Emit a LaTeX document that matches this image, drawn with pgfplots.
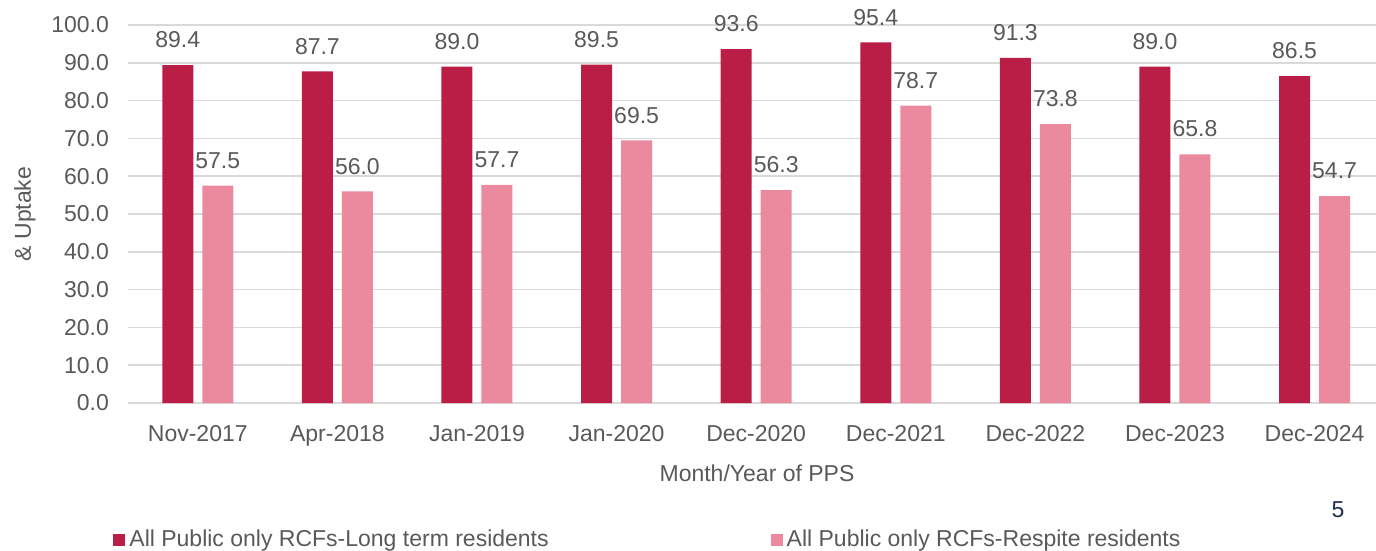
\documentclass[border=0pt]{standalone}
\usepackage{fontspec}
\setmainfont{Liberation Sans}
\usepackage{pgfplots}
\pgfplotsset{compat=1.18}
\definecolor{darkbar}{HTML}{BA1E46}
\definecolor{lightbar}{HTML}{EB899F}
\definecolor{txt}{HTML}{595959}
\definecolor{gridc}{HTML}{D9D9D9}
\definecolor{navy}{HTML}{1F2D4E}
\newcommand{\lbl}{\fontsize{11.5}{13.8}\selectfont}

\begin{document}
\begin{tikzpicture}
\useasboundingbox (0,0) rectangle (688pt,-275.5pt);
\begin{axis}[
    at={(64pt,-201.5pt)}, anchor=south west,
    scale only axis, width=624pt, height=189pt,
    ybar=4.5pt, bar width=15.5pt,
    xmin=-0.5, xmax=8.44, ymin=0, ymax=100,
    xtick={0,...,8},
    xticklabels={Nov-2017,Apr-2018,Jan-2019,Jan-2020,Dec-2020,Dec-2021,Dec-2022,Dec-2023,Dec-2024},
    ytick={0,10,...,100},
    ymajorgrids,
    major grid style={draw=gridc, line width=0.75pt},
    axis line style={draw=none},
    major tick length=0pt,
    tick label style={font=\lbl, text=txt},
    yticklabel style={xshift=-6pt},
    xticklabel style={yshift=-7.5pt},
    /pgf/number format/fixed,
    /pgf/number format/fixed zerofill,
    /pgf/number format/precision=1,
    /pgf/number format/assume math mode=true,
    nodes near coords,
    nodes near coords style={font=\lbl, text=txt, yshift=5pt},
    xlabel={Month/Year of PPS},
    xlabel style={at={(axis description cs:0.5,0)}, anchor=center, yshift=-35pt, xshift=2.5pt, font=\lbl, text=txt},
    ylabel={\& Uptake},
    ylabel style={at={(axis description cs:0,0.5)}, anchor=center, yshift=51.5pt, font=\lbl, text=txt},
    legend columns=2,
    legend style={at={(axis description cs:-0.0168,-0.3624)}, anchor=west, draw=none, fill=none,
        font=\lbl, text=txt,
        /tikz/every even column/.append style={column sep=109pt}},
    legend image code/.code={\draw[#1, draw=none] (0pt,-3pt) rectangle (6pt,3pt);},
]
\addplot[fill=darkbar, draw=none] coordinates {
(0,89.4) (1,87.7) (2,89.0) (3,89.5) (4,93.6) (5,95.4) (6,91.3) (7,89.0) (8,86.5)
};
\addlegendentry{All Public only RCFs-Long term residents}
\addplot[fill=lightbar, draw=none] coordinates {
(0,57.5) (1,56.0) (2,57.7) (3,69.5) (4,56.3) (5,78.7) (6,73.8) (7,65.8) (8,54.7)
};
\addlegendentry{All Public only RCFs-Respite residents}
\end{axis}
\node[text=navy, font=\lbl] at (669pt,-255pt) {5};
\end{tikzpicture}
\end{document}
